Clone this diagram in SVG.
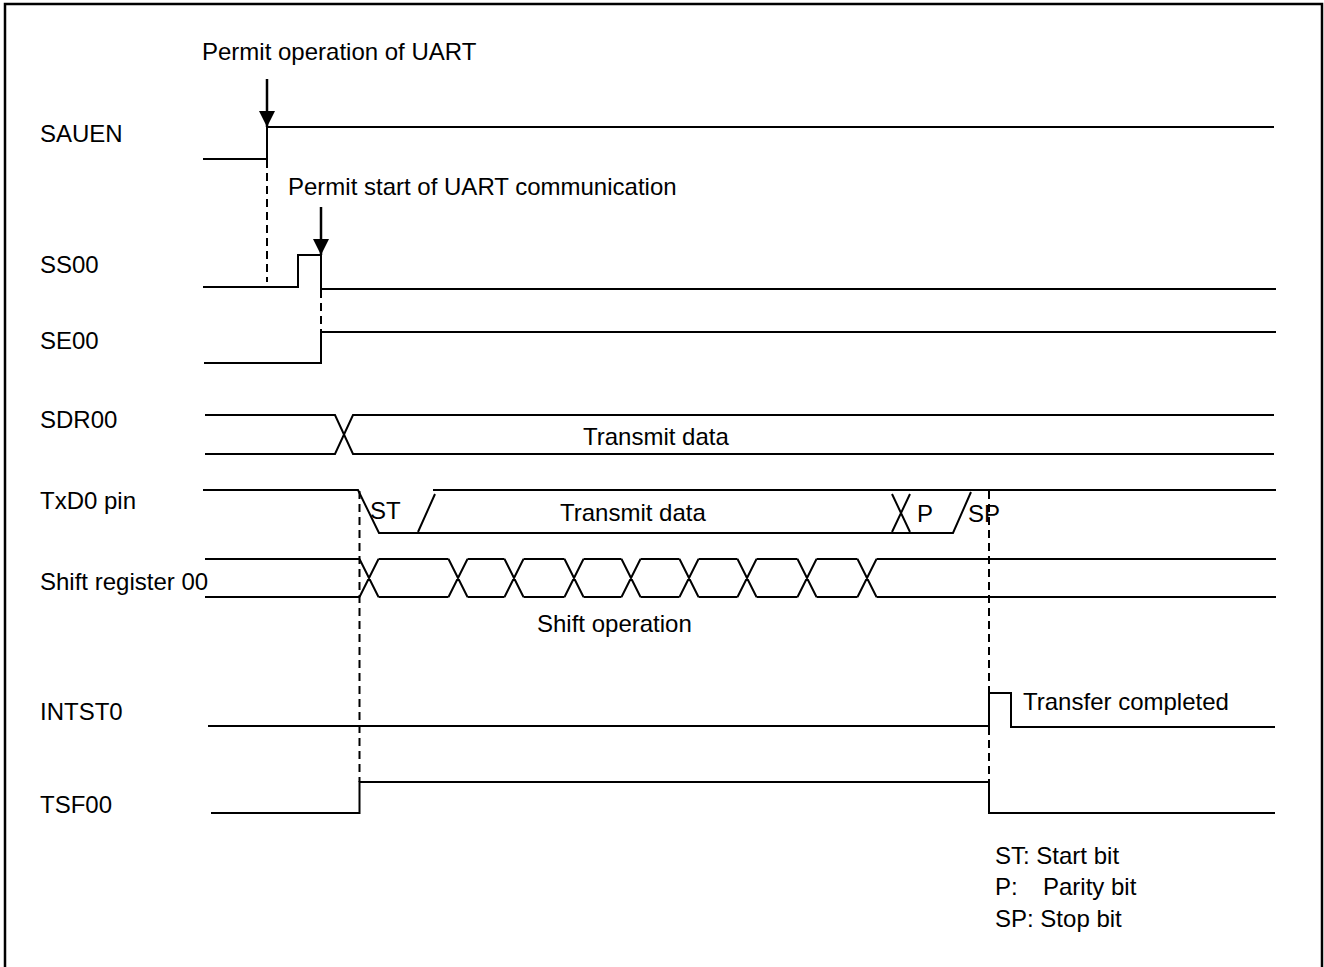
<svg xmlns="http://www.w3.org/2000/svg" width="1324" height="967" viewBox="0 0 1324 967">
<style>
text{font-family:"Liberation Sans",Arial,sans-serif;font-size:24px;fill:#000}
.w{fill:none;stroke:#000;stroke-width:2}
.d{fill:none;stroke:#000;stroke-width:2;stroke-dasharray:8 5}
.a{fill:none;stroke:#000;stroke-width:2.5}
</style>
<defs>
<marker id="ah" viewBox="0 0 16 16" refX="16" refY="8" markerWidth="16" markerHeight="16" markerUnits="userSpaceOnUse" orient="auto">
<path d="M0,0 L16,8 L0,16 z" fill="#000"/>
</marker>
</defs>
<rect x="5" y="4" width="1317" height="980" fill="#fff" stroke="#000" stroke-width="2.5"/>

<g id="sauen">
<text x="40" y="142">SAUEN</text>
<path class="w" d="M203,159 H267 V127 H1274"/>
</g>
<g id="ss00">
<text x="40" y="273">SS00</text>
<path class="w" d="M203,287 H298 V255 H321 V289 H1276"/>
</g>
<g id="se00">
<text x="40" y="349">SE00</text>
<path class="w" d="M204,363 H321 V332 H1276"/>
</g>
<g id="sdr00">
<text x="40" y="428">SDR00</text>
<path class="w" d="M205,415 H335 L353,454 H1274 M205,454 H335 L353,415 H1274"/>
<text x="583" y="445">Transmit data</text>
</g>
<g id="txd0">
<text x="40" y="509">TxD0 pin</text>
<path class="w" d="M203,490 H358 L379,533 H953 L971,492"/>
<path class="w" d="M418,532 L435,494 M433,490 H1276 M892,494 L910,532 M910,494 L892,532"/>
<text x="370" y="519">ST</text>
<text x="560" y="521">Transmit data</text>
<text x="917" y="522">P</text>
<text x="968" y="522">SP</text>
</g>
<g id="shift00">
<text x="40" y="590">Shift register 00</text>
<path class="w" d="M205,559 H359.5 M378.5,559 H448.5 M467.5,559 H504.5 M523.5,559 H564.5 M583.5,559 H621.5 M640.5,559 H679.5 M698.5,559 H737.5 M756.5,559 H797.5 M816.5,559 H857.5 M876.5,559 H1276"/>
<path class="w" d="M205,597 H359.5 M378.5,597 H448.5 M467.5,597 H504.5 M523.5,597 H564.5 M583.5,597 H621.5 M640.5,597 H679.5 M698.5,597 H737.5 M756.5,597 H797.5 M816.5,597 H857.5 M876.5,597 H1276"/>
<path class="w" d="M359.5,559 L378.5,597 M359.5,597 L378.5,559 M448.5,559 L467.5,597 M448.5,597 L467.5,559 M504.5,559 L523.5,597 M504.5,597 L523.5,559 M564.5,559 L583.5,597 M564.5,597 L583.5,559 M621.5,559 L640.5,597 M621.5,597 L640.5,559 M679.5,559 L698.5,597 M679.5,597 L698.5,559 M737.5,559 L756.5,597 M737.5,597 L756.5,559 M797.5,559 L816.5,597 M797.5,597 L816.5,559 M857.5,559 L876.5,597 M857.5,597 L876.5,559"/>
<text x="537" y="632">Shift operation</text>
</g>
<g id="intst0">
<text x="40" y="720">INTST0</text>
<path class="w" d="M208,726 H989 V693 H1011 V727 H1275"/>
<text x="1023" y="710">Transfer completed</text>
</g>
<g id="tsf00">
<text x="40" y="813">TSF00</text>
<path class="w" d="M211,813 H359.5 V782 H989 V813 H1275"/>
</g>

<g id="connectors">
<line class="a" x1="267" y1="79" x2="267" y2="127" marker-end="url(#ah)"/>
<line class="a" x1="321" y1="207" x2="321" y2="255" marker-end="url(#ah)"/>
<path class="d" d="M267,160 V282 M321,290 V332 M359.5,491 V782 M989,491 V693 M989,727 V782"/>
</g>
<g id="annotations">
<text x="202" y="60">Permit operation of UART</text>
<text x="288" y="195">Permit start of UART communication</text>
</g>
<g id="legend">
<text x="995" y="864">ST: Start bit</text>
<text x="995" y="895">P:<tspan x="1043">Parity bit</tspan></text>
<text x="995" y="927">SP: Stop bit</text>
</g>
</svg>
